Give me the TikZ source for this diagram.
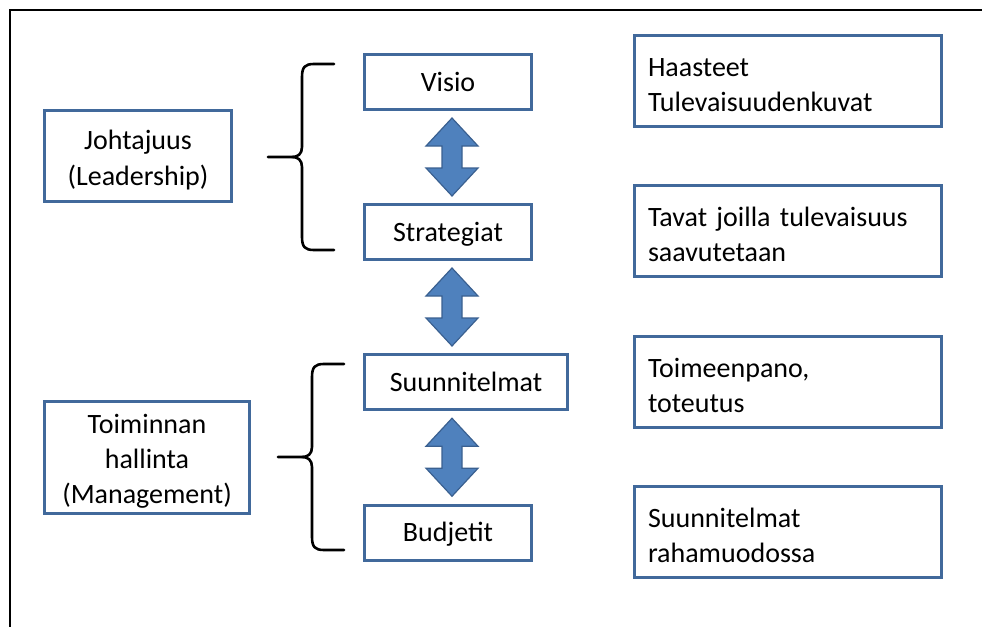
\documentclass[tikz,border=0pt]{standalone}
\usepackage{fontspec}
\setmainfont{Carlito}
\usetikzlibrary{calc}
\definecolor{frameblue}{HTML}{41699B}
\definecolor{arrowfill}{HTML}{4F81BD}
\definecolor{arrowline}{HTML}{3A6090}
\tikzset{
  box/.style={draw=frameblue, line width=1.5pt, fill=white, inner sep=0pt,
    font=\fontsize{14}{17.5}\selectfont, align=center},
  stagebox/.style={box, minimum height=27.5pt, text height=9pt, text depth=0pt},
  % taller first line so the text block sits a little lower in its box
  multiline/.style={execute at begin node={\rule{0pt}{13.5pt}}},
  rolebox/.style={box, multiline},
  notebox/.style={box, multiline, minimum width=153.5pt, minimum height=45.5pt,
    text width=140pt, inner xsep=6.75pt, align=left},
  bracket/.style={line width=1.3pt, line cap=round, line join=round},
  dblarrow/.pic={
    \filldraw[fill=arrowfill, draw=arrowline, line width=0.6pt, line join=miter]
      (0,-39) -- (26,-11) -- (10,-11) -- (10,11) -- (26,11) -- (0,39)
      -- (-26,11) -- (-10,11) -- (-10,-11) -- (-26,-11) -- cycle;
  },
  curly/.pic={
    \draw[bracket] (32,-93) -- (12,-93) .. controls (3,-93) and (0,-90) .. (0,-80)
      -- (0,-10) .. controls (0,-3) and (-4,0) .. (-10,0) -- (-34,0);
    \draw[bracket] (-10,0) .. controls (-4,0) and (0,3) .. (0,10)
      -- (0,80) .. controls (0,90) and (3,93) .. (12,93) -- (32,93);
  }
}
\begin{document}
\begin{tikzpicture}[x=0.5pt, y=-0.5pt]
  \useasboundingbox (0,0) rectangle (982,627);
  % outer frame (runs off the page to the right and bottom)
  \draw[line width=1pt] (10,660) -- (10,10) -- (1010,10);

  % planning stages
  \node[stagebox, minimum width=83.5pt]  (visio) at (448,82)    {Visio};
  \node[stagebox, minimum width=83.5pt]  (strat) at (448,232)   {Strategiat};
  \node[stagebox, minimum width=101.5pt] (plans) at (466,382)   {Suunnitelmat};
  \node[stagebox, minimum width=83.5pt]  (budg)  at (448,532.5) {Budjetit};

  % roles
  \node[rolebox, text width=93.5pt, minimum height=45.5pt,
        font=\fontsize{14}{18}\selectfont] (lead) at (138,156) {Johtajuus\\(Leadership)};
  \node[rolebox, text width=102.5pt, minimum height=56pt] (mgmt) at (147,457.5)
        {Toiminnan\\hallinta\\(Management)};

  % descriptions
  \node[notebox] (haast) at (788,81)    {Haasteet\\Tulevaisuudenkuvat};
  \node[notebox] (tavat) at (788,231)   {Tavat joilla tulevaisuus\\saavutetaan};
  \node[notebox] (toim)  at (788,381.5) {Toimeenpano,\\toteutus};
  \node[notebox] (raha)  at (788,531.5) {Suunnitelmat\\rahamuodossa};

  % two-way links between stages, all on one vertical axis
  \coordinate (m1) at ($(visio.south)!0.5!(strat.north)$);
  \coordinate (m2) at ($(strat.south)!0.5!(plans.north)$);
  \coordinate (m3) at ($(plans.south)!0.5!(budg.north)$);
  \pic at ($(visio.center |- m1)+(4,0)$) {dblarrow};
  \pic at ($(visio.center |- m2)+(4,0)$) {dblarrow};
  \pic at ($(visio.center |- m3)+(4,0)$) {dblarrow};

  % braces grouping the stages under each role
  \pic at (302,157) {curly};
  \pic at (312,457) {curly};
\end{tikzpicture}
\end{document}
